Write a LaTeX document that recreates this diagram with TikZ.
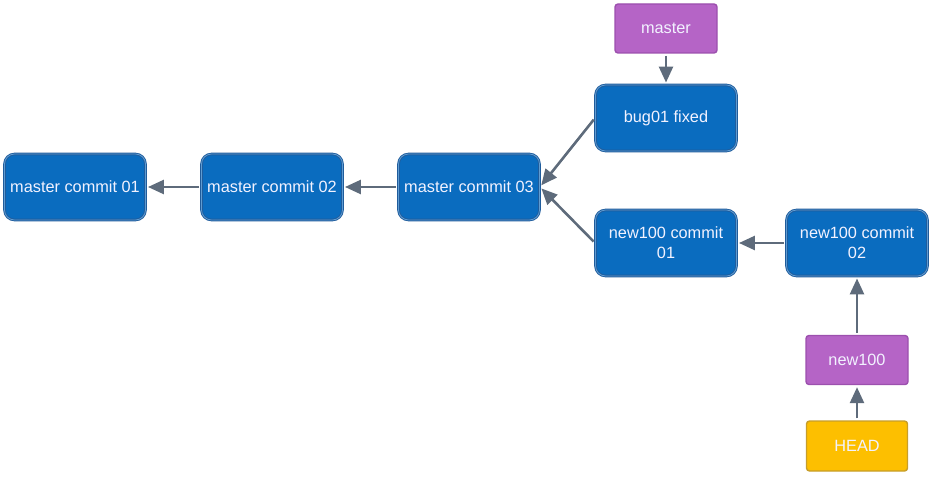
\documentclass[tikz,border=0pt]{standalone}
\usepackage{fontspec}
\setmainfont{Liberation Sans}
\usetikzlibrary{arrows.meta}
\definecolor{cblue}{HTML}{0A6CBF}
\definecolor{cblueb}{HTML}{1F5C9C}
\definecolor{cbluei}{HTML}{5F9CD2}
\definecolor{cpurp}{HTML}{B564C6}
\definecolor{cpurpb}{HTML}{9C50AE}
\definecolor{cyell}{HTML}{FDBF00}
\definecolor{cyellb}{HTML}{C79E2A}
\definecolor{carrow}{HTML}{5E6B7B}
\definecolor{ctext}{HTML}{F2F2FF}
\begin{document}
\begin{tikzpicture}[x=1pt,y=-1pt,
  commit/.style={draw=cblueb,line width=0.9pt,double=cbluei,double distance=0.8pt,
    fill=cblue,rounded corners=10pt,
    minimum width=141pt,minimum height=66pt,inner sep=0pt,text=ctext,align=center,
    font=\fontsize{16.3pt}{20pt}\selectfont},
  branch/.style={draw=cpurpb,line width=1.4pt,fill=cpurp,rounded corners=3pt,
    minimum width=102pt,minimum height=49pt,inner sep=0pt,text=ctext,
    font=\fontsize{16.3pt}{20pt}\selectfont},
  headbox/.style={draw=cyellb,line width=1.4pt,fill=cyell,rounded corners=3pt,
    minimum width=101pt,minimum height=50pt,inner sep=0pt,text=ctext,
    font=\fontsize{16.3pt}{20pt}\selectfont},
  conn/.style={draw=carrow,line width=2.6pt,-{Triangle[length=16pt,width=14pt]},shorten >=2pt,shorten <=2pt}]
\useasboundingbox (0,0) rectangle (933,476);
\node[commit] (m1) at (75,187) {master commit 01};
\node[commit] (m2) at (272,187) {master commit 02};
\node[commit] (m3) at (469,187) {master commit 03};
\node[commit] (bug) at (666,118) {bug01 fixed};
\node[commit] (n1) at (666,243) {new100 commit\\01};
\node[commit] (n2) at (857,243) {new100 commit\\02};
\node[branch] (master) at (666,28.5) {master};
\node[branch] (new100) at (857,360) {new100};
\node[headbox] (head) at (857,446) {HEAD};
\draw[conn] (m2.west) -- (m1.east);
\draw[conn] (m3.west) -- (m2.east);
\draw[conn] (bug.west) -- (m3.east);
\draw[conn] (n1.west) -- (m3.east);
\draw[conn] (n2.west) -- (n1.east);
\draw[conn] (master.south) -- (bug.north);
\draw[conn] (new100.north) -- (n2.south);
\draw[conn] (head.north) -- (new100.south);
\end{tikzpicture}
\end{document}
